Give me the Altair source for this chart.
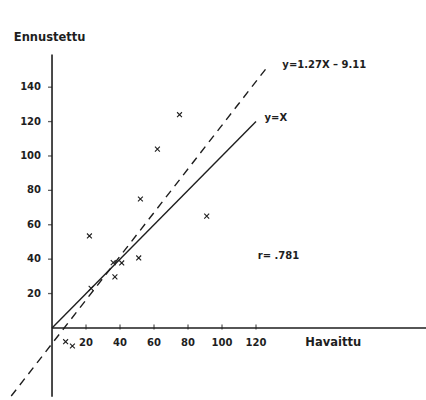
import altair as alt
import pandas as pd

obs_x = [8, 12, 22, 23, 36, 37, 41, 51, 52, 62, 75, 91]
pred_y = [-8, -10.5, 53.5, 23, 38, 29.7, 37.8, 40.7, 75, 104, 124, 65]

ident_x = [0, 120]
ident_y = [0, 120]
fit_x = [-24, 127]
fit_y = [-39.6, 152.2]

x_ticks = [20, 40, 60, 80, 100, 120]
y_ticks = [20, 40, 60, 80, 100, 120, 140]

small_text = ["y=1.27X \u2013 9.11", "y=X", "r= .781"]
small_x = [135.5, 125, 121]
small_y = [153, 122, 42]
title_text = ["Havaittu", "Ennustettu"]
title_x = [149, -22.5]
title_y = [-8.5, 168.5]

INK = "#1e1e1e"
FONT = "DejaVu Sans"

xs = alt.Scale(domain=[-30.6, 220], nice=False, zero=False)
ys = alt.Scale(domain=[-41.9, 190.7], nice=False, zero=False)
X = lambda f: alt.X(f, type="quantitative", scale=xs, axis=None)
Y = lambda f: alt.Y(f, type="quantitative", scale=ys, axis=None)

pts = pd.DataFrame({"x": obs_x, "y": pred_y})
ident = pd.DataFrame({"x": ident_x, "y": ident_y})
fit = pd.DataFrame({"x": fit_x, "y": fit_y})
xt = pd.DataFrame({"v": x_ticks, "z": [0] * len(x_ticks)})
yt = pd.DataFrame({"v": y_ticks, "z": [0] * len(y_ticks)})
ann_s = pd.DataFrame({"t": small_text, "x": small_x, "y": small_y})
ann_b = pd.DataFrame({"t": title_text, "x": title_x, "y": title_y})
axes = pd.DataFrame({"x": [0, 0], "x2": [0, 220], "y": [-40, 0], "y2": [159, 0]})

axis_lines = alt.Chart(axes).mark_rule(color=INK, strokeWidth=1.6).encode(
    x=X("x"), x2="x2", y=Y("y"), y2="y2"
)

ytick_marks = alt.Chart(yt).mark_tick(color=INK, orient="horizontal", size=4, thickness=1.3, xOffset=-2).encode(
    x=X("z"), y=Y("v")
)
ytick_labels = alt.Chart(yt).mark_text(
    color=INK, font=FONT, fontSize=10, fontWeight="bold", align="right", baseline="middle", dx=-11
).encode(x=X("z"), y=Y("v"), text=alt.Text("v:Q"))

xtick_marks = alt.Chart(xt).mark_tick(color=INK, orient="vertical", size=5, thickness=1.3, yOffset=-1).encode(
    x=X("v"), y=Y("z")
)
xtick_labels = alt.Chart(xt).mark_text(
    color=INK, font=FONT, fontSize=10, fontWeight="bold", align="center", baseline="middle", dy=15
).encode(x=X("v"), y=Y("z"), text=alt.Text("v:Q"))

ident_line = alt.Chart(ident).mark_line(color=INK, strokeWidth=1.4).encode(x=X("x"), y=Y("y"))
fit_line = alt.Chart(fit).mark_line(color=INK, strokeWidth=1.4, strokeDash=[8, 6]).encode(x=X("x"), y=Y("y"))

points = alt.Chart(pts).mark_point(
    shape="M-1,-1L1,1M-1,1L1,-1", size=24, color=INK, strokeWidth=1.1, filled=False, opacity=1
).encode(x=X("x"), y=Y("y"))

ann_small = alt.Chart(ann_s).mark_text(
    color=INK, font=FONT, fontSize=10, fontWeight="bold", align="left", baseline="middle"
).encode(x=X("x"), y=Y("y"), text="t:N")
ann_big = alt.Chart(ann_b).mark_text(
    color=INK, font=FONT, fontSize=11.5, fontWeight="bold", align="left", baseline="middle"
).encode(x=X("x"), y=Y("y"), text="t:N")

chart = alt.layer(
    axis_lines, ytick_marks, ytick_labels, xtick_marks, xtick_labels,
    ident_line, fit_line, points, ann_small, ann_big
).properties(
    width=426, height=400, padding=0, autosize=alt.AutoSizeParams(type="none"),
    background="white"
).configure_view(stroke=None)

chart.save("out.html", embed_options={"renderer": "svg", "actions": False})
